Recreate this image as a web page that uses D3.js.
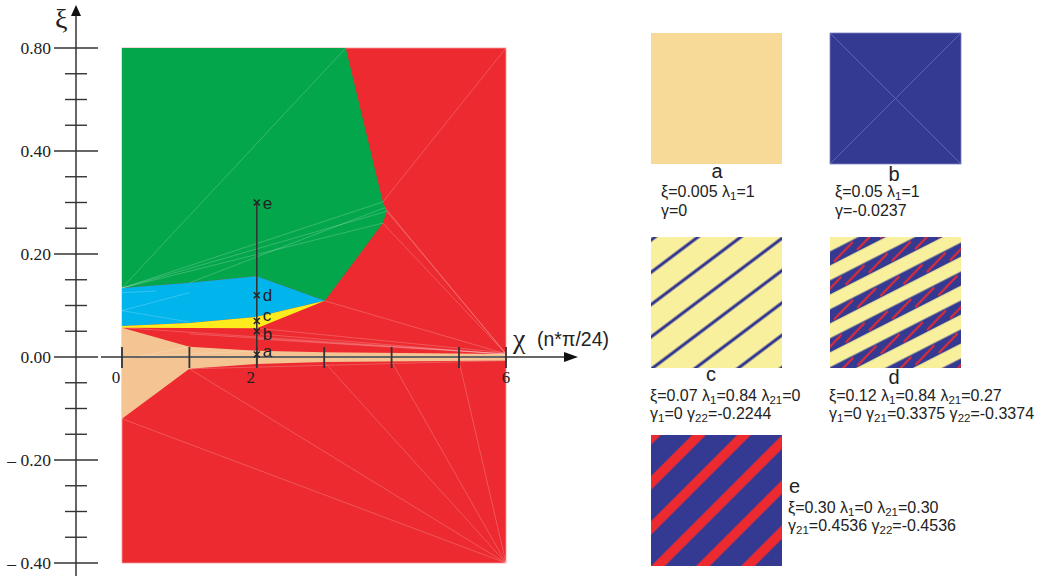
<!DOCTYPE html>
<html>
<head>
<meta charset="utf-8">
<script src="https://cdn.jsdelivr.net/npm/d3@7"></script>
<style>
  html, body { margin: 0; padding: 0; background: #fff; }
  svg { display: block; }
</style>
</head>
<body>
<svg id="chart" width="1041" height="576"></svg>
<script>
// ---------------- DATA ----------------
// axis breakpoints (the original axes are piecewise-linear)
const chiBreaks = [0, 5, 6];
const xiBreaks = [-0.4, -0.2, 0, 0.2, 0.4, 0.8];
const xTicks = [0, 1, 2, 3, 4, 5, 6];
const xTickLabels = [0, 2, 6];
const yMajorTicks = [0.8, 0.4, 0.2, 0, -0.2, -0.4];
const yMajorLabels = ["0.80", "0.40", "0.20", "0.00", "\u2013 0.20", "\u2013 0.40"];
const yMinorTicks = [0.7, 0.6, 0.5, 0.35, 0.3, 0.25, 0.15, 0.1, 0.05, -0.05, -0.1, -0.15, -0.25, -0.3, -0.35];

// phase regions [chi, xi]
const greenRegion = [[0,0.8],[3.32,0.8],[3.87,0.301],[3.93,0.283],[3.87,0.26],[3.01,0.109],[2,0.157],[1,0.144],[0,0.134]];
const cyanRegion = [[0,0.134],[1,0.144],[2,0.157],[3.01,0.109],[2,0.078],[1,0.066],[0,0.060]];
const yellowRegion = [[0,0.060],[1,0.066],[2,0.078],[3.01,0.109],[2,0.056],[0,0.057]];
const peachRegion = [[0,0.057],[1,0.020],[2,0.012],[3,0.009],[6,0.006],[6,-0.007],[3,-0.0097],[2,-0.0136],[1,-0.023],[0,-0.12]];

// faint mesh edges
const meshEdges = [
  [[0,0.134],[3.32,0.8]], [[0,0.134],[3.87,0.301]], [[0,0.134],[3.93,0.283]], [[0,0.134],[3.87,0.26]],
  [[1,0.144],[3.9,0.29]],
  [[0,0.09],[1,0.125]], [[0,0.09],[1,0.068]], [[0,0.125],[0.5,0.128]],
  [[3.87,0.301],[6,0.8]], [[3.93,0.283],[6,0.006]], [[3.9,0.29],[6,0.006]], [[3.87,0.26],[6,0.006]],
  [[3.01,0.109],[6,0.006]], [[0,0.057],[6,0.006]], [[2,0.056],[6,0.008]], [[1,0.045],[6,0.006]],
  [[2,0.045],[6,0.005]], [[2,0.035],[6,0.006]],
  [[0,-0.005],[1,0.020]], [[0,0.0],[2,0.012]], [[1,-0.023],[6,-0.007]],
  [[0,-0.12],[6,-0.4]], [[1,-0.023],[6,-0.4]], [[3,-0.0097],[6,-0.4]], [[4,-0.009],[6,-0.4]], [[5,-0.008],[6,-0.4]]
];

// sample points on chi = 2
const pointChi = 2;
const pointNames = ["a", "b", "c", "d", "e"];
const pointXi = [0.005, 0.05, 0.07, 0.12, 0.30];

// right-hand panels
const panelNames = ["a", "b", "c", "d", "e"];
const panelLine1 = ["\u03be=0.005 \u03bb_1=1", "\u03be=0.05 \u03bb_1=1", "\u03be=0.07 \u03bb_1=0.84 \u03bb_21=0",
                    "\u03be=0.12 \u03bb_1=0.84 \u03bb_21=0.27", "\u03be=0.30 \u03bb_1=0 \u03bb_21=0.30"];
const panelLine2 = ["\u03b3=0", "\u03b3=-0.0237", "\u03b3_1=0 \u03b3_22=-0.2244",
                    "\u03b3_1=0 \u03b3_21=0.3375 \u03b3_22=-0.3374", "\u03b3_21=0.4536 \u03b3_22=-0.4536"];

// ---------------- LAYOUT / STYLE ----------------
const C = { red: "#EC2A2F", green: "#04A64B", cyan: "#00B4EC", yellow: "#FCEC1E", peach: "#F4C492",
            sqA: "#F8DA98", blue: "#343A92", pale: "#F8F09C", axis: "#666", dark: "#333" };
const pointLabelDy = [3, 9, 0, 6, 6];   // text baseline offsets of the point labels
const SANS = "Liberation Sans, Arial, sans-serif";
const SERIF = "Liberation Serif, serif";

const svg = d3.select("#chart");
const x = d3.scaleLinear().domain(chiBreaks).range([122, 459, 506]);
const y = d3.scaleLinear().domain(xiBreaks).range([563, 460, 357, 254, 151, 48]);
const line = d3.line().x(d => x(d[0])).y(d => y(d[1]));
const poly = pts => line(pts) + "Z";

// background (red phase)
svg.append("rect").attr("x", x(0)).attr("y", y(0.8))
  .attr("width", x(6) - x(0)).attr("height", y(-0.4) - y(0.8))
  .attr("fill", C.red).attr("stroke", "#F29A9A").attr("stroke-width", 0.8);

const regions = [[greenRegion, C.green], [cyanRegion, C.cyan], [yellowRegion, C.yellow], [peachRegion, C.peach]];
svg.append("g").selectAll("path").data(regions).join("path")
  .attr("d", d => poly(d[0])).attr("fill", d => d[1]);

svg.append("g").selectAll("path").data(meshEdges).join("path")
  .attr("d", d => line(d)).attr("fill", "none")
  .attr("stroke", "#fff").attr("stroke-opacity", 0.35).attr("stroke-width", 0.6);

// y axis
const axisX = 76;
const ya = svg.append("g");
ya.append("line").attr("x1", axisX).attr("x2", axisX).attr("y1", 12).attr("y2", 576)
  .attr("stroke", C.axis).attr("stroke-width", 2);
ya.append("path").attr("d", `M${axisX},5 L${axisX - 5},16 L${axisX + 5},16 Z`).attr("fill", "#111");
ya.selectAll(".maj").data(yMajorTicks).join("line")
  .attr("x1", 54).attr("x2", 98).attr("y1", d => y(d)).attr("y2", d => y(d))
  .attr("stroke", C.dark).attr("stroke-width", 1.4);
ya.selectAll(".min").data(yMinorTicks).join("line")
  .attr("x1", 65).attr("x2", 87).attr("y1", d => y(d)).attr("y2", d => y(d))
  .attr("stroke", C.dark).attr("stroke-width", 1.4);
ya.selectAll("text").data(yMajorTicks).join("text")
  .attr("x", 51).attr("y", d => y(d) + 6).attr("text-anchor", "end")
  .attr("font-family", SERIF).attr("font-size", 17.5).attr("fill", "#222")
  .text((d, i) => yMajorLabels[i]);
svg.append("text").attr("x", 55).attr("y", 28)
  .attr("font-family", SERIF).attr("font-size", 28).attr("fill", "#222").text("\u03be");

// x axis
const xa = svg.append("g");
xa.append("line").attr("x1", 101).attr("x2", 566).attr("y1", y(0)).attr("y2", y(0))
  .attr("stroke", C.axis).attr("stroke-width", 2);
xa.append("path").attr("d", `M578,${y(0)} L564,${y(0) - 5} L564,${y(0) + 5} Z`).attr("fill", "#111");
xa.selectAll("line.t").data(xTicks).join("line").attr("class", "t")
  .attr("x1", d => x(d)).attr("x2", d => x(d)).attr("y1", y(0) - 10).attr("y2", y(0) + 11)
  .attr("stroke", C.dark).attr("stroke-width", 1.8);
xa.selectAll("text").data(xTickLabels).join("text")
  .attr("x", d => x(d) + (d === 6 ? 0 : -6)).attr("y", y(0) + 26).attr("text-anchor", "middle")
  .attr("font-family", SERIF).attr("font-size", 17).attr("fill", "#222")
  .text(d => d);
svg.append("text").attr("x", 513).attr("y", 348)
  .attr("font-family", SERIF).attr("font-size", 28).attr("fill", "#222").text("\u03c7");
svg.append("text").attr("x", 537).attr("y", 346)
  .attr("font-family", SANS).attr("font-size", 19.5).attr("fill", "#222").text("(n*\u03c0/24)");

// vertical path at chi = 2 with sample points
const pg = svg.append("g");
pg.append("line").attr("x1", x(pointChi)).attr("x2", x(pointChi))
  .attr("y1", y(d3.max(pointXi))).attr("y2", y(-0.018))
  .attr("stroke", C.dark).attr("stroke-width", 1.6);
pg.selectAll("path").data(pointXi).join("path")
  .attr("d", d => { const cx = x(pointChi), cy = y(d), s = 3; return `M${cx - s},${cy - s}L${cx + s},${cy + s}M${cx - s},${cy + s}L${cx + s},${cy - s}`; })
  .attr("stroke", "#222").attr("stroke-width", 1.4);
pg.selectAll("text").data(pointXi).join("text")
  .attr("x", x(pointChi) + 6).attr("y", (d, i) => y(d) + pointLabelDy[i])
  .attr("font-family", SANS).attr("font-size", 17).attr("fill", "#222")
  .text((d, i) => pointNames[i]);

// ---------------- PANELS ----------------
const defs = svg.append("defs");
function stripePattern(id, angle, w, period, bg, bands, extra) {
  const p = defs.append("pattern").attr("id", id).attr("patternUnits", "userSpaceOnUse")
    .attr("width", w).attr("height", period).attr("patternTransform", `rotate(${angle})`);
  p.append("rect").attr("width", w).attr("height", period).attr("fill", bg);
  bands.forEach(b => p.append("rect").attr("x", 0).attr("y", b[0]).attr("width", w).attr("height", b[1]).attr("fill", b[2]));
  if (extra) extra(p);
}
stripePattern("patC", -37, 40, 25.8, C.pale, [[14.4, 3, "#2E3192"]]);
stripePattern("patD", -27, 26, 25.8, C.pale, [[7.4, 12.6, C.blue]], p => {
  p.append("line").attr("x1", 0).attr("y1", 7.4 + 11).attr("x2", 26).attr("y2", 7.4 + 2)
    .attr("stroke", C.red).attr("stroke-width", 2);
});
stripePattern("patE", -45, 40, 31.8, C.blue, [[2.1, 9.6, C.red]]);

const panelPos = [[651, 33], [830, 33], [651, 237], [830, 237], [651, 435]];
const panelFill = [C.sqA, C.blue, "url(#patC)", "url(#patD)", "url(#patE)"];
const sq = 131;
const labelPos = [[717, 178, "middle"], [894, 181, "middle"], [711, 381, "middle"], [894, 384, "middle"], [789, 493, "start"]];
const textPos = [[661, 197, 216], [835, 197, 216], [650, 401, 419], [829, 401, 419], [788, 513, 531]];

const pan = svg.append("g");
pan.selectAll("rect").data(panelNames).join("rect")
  .attr("x", (d, i) => panelPos[i][0]).attr("y", (d, i) => panelPos[i][1])
  .attr("width", sq).attr("height", sq).attr("fill", (d, i) => panelFill[i]);
// faint mesh diagonals in panel b
pan.append("path")
  .attr("d", `M${panelPos[1][0]},${panelPos[1][1]}L${panelPos[1][0] + sq},${panelPos[1][1] + sq}M${panelPos[1][0] + sq},${panelPos[1][1]}L${panelPos[1][0]},${panelPos[1][1] + sq}`)
  .attr("stroke", "#6A70B8").attr("stroke-width", 0.8).attr("fill", "none");
pan.append("rect").attr("x", panelPos[1][0]).attr("y", panelPos[1][1]).attr("width", sq).attr("height", sq)
  .attr("fill", "none").attr("stroke", "#7A80C4").attr("stroke-width", 0.8);

pan.selectAll("text.lab").data(panelNames).join("text").attr("class", "lab")
  .attr("x", (d, i) => labelPos[i][0]).attr("y", (d, i) => labelPos[i][1])
  .attr("text-anchor", (d, i) => labelPos[i][2])
  .attr("font-family", SANS).attr("font-size", 20).attr("fill", "#222")
  .text(d => d);

function richText(g, str, tx, ty) {
  const t = g.append("text").attr("x", tx).attr("y", ty)
    .attr("font-family", SANS).attr("font-size", 16).attr("fill", "#222");
  const parts = str.split(/(_\d+)/).filter(s => s.length);
  let shifted = false;
  parts.forEach(p => {
    if (p[0] === "_") {
      t.append("tspan").attr("dy", 3).attr("font-size", 11.5).text(p.slice(1));
      shifted = true;
    } else {
      const ts = t.append("tspan").text(p);
      if (shifted) { ts.attr("dy", -3); shifted = false; }
    }
  });
}
panelNames.forEach((n, i) => {
  richText(pan, panelLine1[i], textPos[i][0], textPos[i][1]);
  richText(pan, panelLine2[i], textPos[i][0], textPos[i][2]);
});
</script>
</body>
</html>
